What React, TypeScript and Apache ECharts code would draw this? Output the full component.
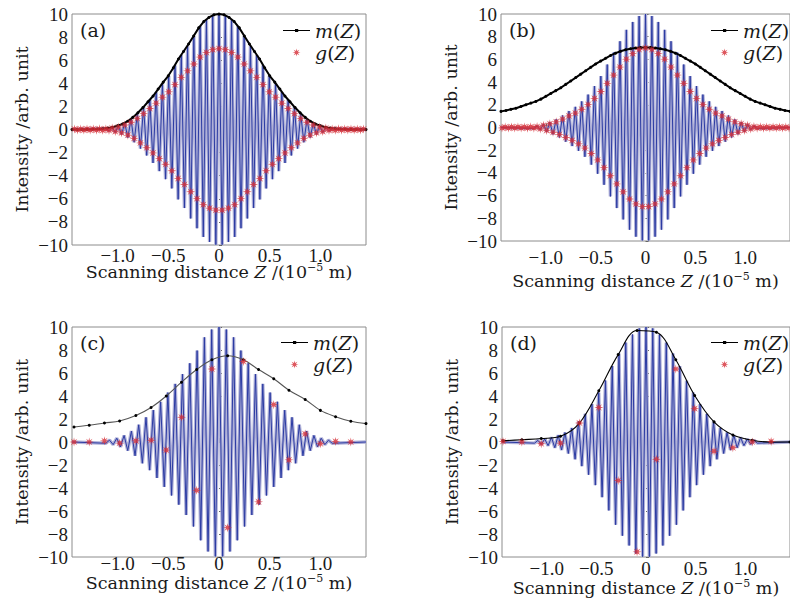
import React, { useEffect, useRef } from "react";
import * as echarts from "echarts";

// ---------- data ----------
const xMin = -1.45;
const xMax = 1.45;
const xTicks = [-1.0, -0.5, 0, 0.5, 1.0];
const panelLabels = ["(a)", "(b)", "(c)", "(d)"];

// Panel (a): interference fringe extrema (signed), sampled every half fringe
const aFringeStart = -1.116;
const aFringeStep = 0.031;
const aFringe = [0.07,-0.12,0.18,-0.25,0.32,-0.42,0.55,-0.7,0.9,-1.1,1.35,-1.65,1.95,-2.25,2.6,-2.9,3.25,-3.6,4.0,-4.3,4.65,-5.1,5.55,-6.05,6.45,-6.8,7.25,-7.7,8.1,-8.55,8.95,-9.3,9.53,-9.73,9.88,-9.97,10,-9.97,9.88,-9.73,9.53,-9.3,8.95,-8.55,8.1,-7.7,7.25,-6.8,6.45,-6.05,5.55,-5.1,4.65,-4.3,4.0,-3.6,3.25,-2.9,2.6,-2.25,1.95,-1.65,1.35,-1.1,0.9,-0.7,0.55,-0.42,0.32,-0.25,0.18,-0.12,0.07];
const aMStart = -1.45;
const aMStep = 0.05;
const aM = [0,0,0,0.01,0.02,0.04,0.07,0.12,0.2,0.32,0.48,0.72,1.05,1.45,1.9,2.4,2.9,3.5,4.1,4.65,5.35,6.1,6.75,7.4,8.1,8.8,9.35,9.7,9.93,10,9.93,9.7,9.35,8.8,8.1,7.4,6.75,6.1,5.35,4.65,4.1,3.5,2.9,2.4,1.9,1.45,1.05,0.72,0.48,0.32,0.2,0.12,0.07,0.04,0.02,0.01,0,0,0];
const aGStart = -1.426;
const aGStep = 0.031;
const aG = [0.04,-0.04,0.04,-0.05,0.05,-0.05,0.05,-0.06,0.06,-0.07,0.05,-0.08,0.13,-0.18,0.22,-0.29,0.39,-0.49,0.63,-0.77,0.95,-1.16,1.37,-1.58,1.82,-2.03,2.28,-2.52,2.8,-3.01,3.26,-3.57,3.89,-4.24,4.52,-4.76,5.08,-5.39,5.67,-5.99,6.27,-6.51,6.67,-6.81,6.92,-6.98,7.0,-6.98,6.92,-6.81,6.67,-6.51,6.27,-5.99,5.67,-5.39,5.08,-4.76,4.52,-4.24,3.89,-3.57,3.26,-3.01,2.8,-2.52,2.28,-2.03,1.82,-1.58,1.37,-1.16,0.95,-0.77,0.63,-0.49,0.39,-0.29,0.22,-0.18,0.13,-0.08,0.05,-0.07,0.06,-0.06,0.05,-0.05,0.05,-0.05,0.04,-0.04,0.04];

// Panel (b)
const bFringeStart = -1.12;
const bFringeStep = 0.032;
const bFringe = [-0.08,0.12,-0.19,0.28,-0.37,0.47,-0.6,0.72,-0.88,1.06,-1.25,1.45,-1.63,1.82,-2.05,2.3,-2.58,2.9,-3.27,3.65,-4.08,4.53,-5.05,5.55,-6.07,6.6,-7.1,7.6,-8.1,8.6,-9.0,9.3,-9.62,9.82,-9.95,10,-9.95,9.82,-9.62,9.3,-9.0,8.6,-8.1,7.6,-7.1,6.6,-6.07,5.55,-5.05,4.53,-4.08,3.65,-3.27,2.9,-2.58,2.3,-2.05,1.82,-1.63,1.45,-1.25,1.06,-0.88,0.72,-0.6,0.47,-0.37,0.28,-0.19,0.12,-0.08];
const bMStart = -1.45;
const bMStep = 0.05;
const bM = [1.42,1.5,1.6,1.7,1.85,2.0,2.15,2.3,2.5,2.75,3.0,3.25,3.5,3.8,4.1,4.4,4.7,5.0,5.3,5.6,5.85,6.1,6.35,6.55,6.72,6.85,6.93,7.0,7.04,7.05,7.04,7.0,6.93,6.85,6.72,6.55,6.35,6.1,5.85,5.6,5.3,5.0,4.7,4.4,4.1,3.8,3.5,3.25,3.0,2.75,2.5,2.3,2.15,2.0,1.85,1.7,1.6,1.5,1.42];
const bGStart = -1.44;
const bGStep = 0.032;
const bG = [-0.04,0.04,-0.05,0.05,-0.05,0.05,-0.05,0.05,-0.06,0.06,-0.06,0.08,-0.13,0.2,-0.26,0.33,-0.42,0.5,-0.62,0.74,-0.88,1.02,-1.14,1.27,-1.44,1.61,-1.81,2.03,-2.29,2.56,-2.86,3.17,-3.54,3.89,-4.25,4.62,-4.97,5.32,-5.67,6.02,-6.3,6.51,-6.73,6.87,-6.97,7.0,-6.97,6.87,-6.73,6.51,-6.3,6.02,-5.67,5.32,-4.97,4.62,-4.25,3.89,-3.54,3.17,-2.86,2.56,-2.29,2.03,-1.81,1.61,-1.44,1.27,-1.14,1.02,-0.88,0.74,-0.62,0.5,-0.42,0.33,-0.26,0.2,-0.13,0.08,-0.06,0.06,-0.06,0.05,-0.05,0.05,-0.05,0.05,-0.05,0.04,-0.04];

// Panel (c)
const cFringeStart = -1.116;
const cFringeStep = 0.036;
const cFringe = [-0.11,0.16,-0.23,0.33,-0.43,0.57,-0.75,0.95,-1.2,1.5,-1.85,2.15,-2.45,2.77,-3.13,3.5,-3.9,4.3,-4.65,5.05,-5.45,5.9,-6.35,6.85,-7.35,7.95,-8.55,9.1,-9.52,9.78,-9.95,10,-9.95,9.78,-9.52,9.1,-8.55,7.95,-7.35,6.85,-6.35,5.9,-5.45,5.05,-4.65,4.3,-3.9,3.5,-3.13,2.77,-2.45,2.15,-1.85,1.5,-1.2,0.95,-0.75,0.57,-0.43,0.33,-0.23,0.16,-0.11];
const cMZ = [-1.43,-1.28,-1.13,-0.98,-0.82,-0.67,-0.52,-0.37,-0.22,-0.07,0.085,0.24,0.39,0.54,0.69,0.85,1.0,1.15,1.3,1.45];
const cM = [1.3,1.45,1.65,1.83,2.3,3.0,4.0,5.2,6.3,7.15,7.5,7.15,6.3,5.5,4.5,3.7,2.75,2.2,1.8,1.6];
const cGZ = [-1.43,-1.28,-1.13,-0.98,-0.82,-0.67,-0.52,-0.37,-0.22,-0.07,0.085,0.24,0.39,0.54,0.69,0.85,1.0,1.15,1.3];
const cG = [0,0,0.1,-0.1,0.1,0.15,-0.7,2.15,-4.2,6.35,-7.45,7.0,-5.2,3.25,-1.55,0.7,-0.15,0.05,0];

// Panel (d)
const dFringeStart = -1.122;
const dFringeStep = 0.034;
const dFringe = [-0.1,0.14,-0.2,0.26,-0.32,0.4,-0.5,0.6,-0.7,0.83,-1.0,1.22,-1.5,1.8,-2.1,2.45,-2.85,3.3,-3.75,4.3,-4.8,5.35,-5.95,6.6,-7.2,7.7,-8.15,8.65,-9.0,9.35,-9.7,9.88,-9.97,10,-9.97,9.88,-9.7,9.35,-9.0,8.65,-8.15,7.7,-7.2,6.6,-5.95,5.35,-4.8,4.3,-3.75,3.3,-2.85,2.45,-2.1,1.8,-1.5,1.22,-1.0,0.83,-0.7,0.6,-0.5,0.4,-0.32,0.26,-0.2,0.14,-0.1];
const dMZ = [-1.44,-1.25,-1.055,-0.86,-0.67,-0.475,-0.28,-0.09,0.105,0.3,0.49,0.685,0.875,1.07,1.26,1.45];
const dM = [0.1,0.2,0.3,0.5,1.65,4.45,7.6,9.7,9.55,7.15,4.05,1.75,0.6,0.15,0.0,0.0];
const dGZ = [-1.44,-1.25,-1.055,-0.86,-0.67,-0.475,-0.28,-0.09,0.105,0.3,0.49,0.685,0.875,1.07,1.26];
const dG = [0.05,0,-0.15,-0.1,1.65,3.0,-3.35,-9.55,-1.5,6.35,2.9,-0.8,-0.5,0,0.05];

// ---------- helpers ----------
const gridded = (start: number, step: number, vals: number[]) =>
  vals.map((v, i) => [+(start + step * i).toFixed(4), v]);
const paired = (zs: number[], vals: number[]) => vals.map((v, i) => [zs[i], v]);
const withEdges = (pts: number[][]) => [[xMin, 0], ...pts, [xMax, 0]];

function asteriskPath() {
  const n = 8;
  let d = "";
  for (let i = 0; i < 2 * n; i++) {
    const a = (i * Math.PI) / n - Math.PI / 2;
    const r = i % 2 ? 3.8 : 10;
    const x = 10 + r * Math.cos(a);
    const y = 10 + r * Math.sin(a);
    d += (i ? "L" : "M") + x.toFixed(2) + " " + y.toFixed(2);
  }
  return "path://" + d + "Z";
}
// legend icon for m(Z): thin line with a small dot, in a 27x8 box
const mIcon =
  "path://M0 0L0.05 0L0 0.05Z M27 8L26.95 8L27 7.95Z M0 3.4L27 3.4L27 4.6L0 4.6Z M12 2.4L15.2 2.4L15.2 5.6L12 5.6Z";

const SERIF_NUM = "Liberation Serif";
const SERIF_TXT = "DejaVu Serif";
const TXT = "#1a1a1a";

export default function App() {
  const ref = useRef<HTMLDivElement>(null);
  useEffect(() => {
    if (!ref.current) return;
    const chart = echarts.init(ref.current, undefined, { renderer: "svg" });
    const star = asteriskPath();

    const grids = [
      { left: 72, top: 14, width: 294, height: 231 },
      { left: 501, top: 14, width: 294, height: 227 },
      { left: 72, top: 327, width: 294, height: 230 },
      { left: 502, top: 327, width: 294, height: 230 },
    ];
    const xLabelMargin = [3, 9, -1, 4];
    const xNameGap = [17, 30, 16, 21];

    const fringes = [
      gridded(aFringeStart, aFringeStep, aFringe),
      gridded(bFringeStart, bFringeStep, bFringe),
      gridded(cFringeStart, cFringeStep, cFringe),
      gridded(dFringeStart, dFringeStep, dFringe),
    ];
    const ms = [
      gridded(aMStart, aMStep, aM),
      gridded(bMStart, bMStep, bM),
      paired(cMZ, cM),
      paired(dMZ, dM),
    ];
    const gs = [
      gridded(aGStart, aGStep, aG),
      gridded(bGStart, bGStep, bG),
      paired(cGZ, cG),
      paired(dGZ, dG),
    ];

    const series: any[] = [];
    for (let i = 0; i < 4; i++) {
      const fr = withEdges(fringes[i]);
      series.push({
        type: "line", xAxisIndex: i, yAxisIndex: i, data: fr, showSymbol: false, silent: true,
        lineStyle: { color: "#b0b1d8", width: 3.4 }, z: 1,
      });
      series.push({
        type: "line", xAxisIndex: i, yAxisIndex: i, data: fr, showSymbol: false, silent: true,
        lineStyle: { color: "#2b3ba3", width: 1.0 }, z: 2,
      });
      const sparse = i >= 2;
      series.push({
        name: "m(Z)", type: "line", xAxisIndex: i, yAxisIndex: i, data: ms[i],
        symbol: "circle", symbolSize: 3, showSymbol: true,
        smooth: sparse ? 0.35 : false,
        itemStyle: { color: "#000" },
        lineStyle: { color: i === 2 ? "#555" : "#000", width: sparse ? 1.1 : 2 }, z: 3,
      });
      series.push({
        name: "g(Z)", type: "scatter", xAxisIndex: i, yAxisIndex: i, data: gs[i],
        symbol: star, symbolSize: 9, itemStyle: { color: "#d62e37" }, z: 4,
      });
    }

    const legendPos = [
      { left: 278, top: 15 },
      { left: 706, top: 15 },
      { left: 276, top: 327 },
      { left: 706, top: 327 },
    ];
    const richLegend = {
      i: { fontStyle: "italic", fontFamily: SERIF_TXT, fontSize: 19, color: TXT },
    };

    chart.setOption({
      animation: false,
      backgroundColor: "#fff",
      grid: grids.map((g) => ({ ...g, show: true, borderColor: "#8c8c8c", borderWidth: 1, backgroundColor: "transparent", containLabel: false })),
      xAxis: grids.map((_, i) => ({
        type: "value", gridIndex: i, min: xMin, max: xMax,
        splitLine: { show: false },
        axisLine: { show: false },
        axisTick: { show: true, inside: true, length: 4, customValues: xTicks, lineStyle: { color: "#666" } },
        axisLabel: {
          customValues: xTicks, margin: xLabelMargin[i],
          fontFamily: SERIF_NUM, fontSize: 19, color: TXT, lineHeight: 14,
          formatter: (v: number) => (v === 0 ? "0" : (v < 0 ? "\u2212" : "") + Math.abs(v).toFixed(1)),
        },
        name: "Scanning distance {i|Z} /(10{s|\u22125} m)",
        nameLocation: "middle", nameGap: xNameGap[i], nameMoveOverlap: false,
        nameTextStyle: {
          fontFamily: SERIF_TXT, fontSize: 17.5, color: TXT, lineHeight: 20,
          rich: {
            i: { fontStyle: "italic", fontFamily: SERIF_TXT, fontSize: 17.5, color: TXT, lineHeight: 20 },
            s: { fontFamily: SERIF_TXT, fontSize: 11, color: TXT, verticalAlign: "top", lineHeight: 20 },
          },
        },
      })),
      yAxis: grids.map((_, i) => ({
        type: "value", gridIndex: i, min: -10, max: 10, interval: 2,
        splitLine: { show: false },
        axisLine: { show: false },
        axisTick: { show: true, inside: true, length: 3, lineStyle: { color: "#666" } },
        axisLabel: {
          margin: 4, fontFamily: SERIF_NUM, fontSize: 19, color: TXT,
          formatter: (v: number) => (v < 0 ? "\u2212" + Math.abs(v) : String(v)),
        },
        name: "Intensity /arb. unit", nameLocation: "middle", nameGap: 41, nameMoveOverlap: false,
        nameTextStyle: { fontFamily: SERIF_TXT, fontSize: 17.5, color: TXT },
      })),
      legend: legendPos.map((p) => ({
        ...p, orient: "vertical", itemGap: 1, itemWidth: 27, itemHeight: 8,
        selectedMode: false,
        data: [{ name: "m(Z)", icon: mIcon }, { name: "g(Z)", icon: star }],
        formatter: (name: string) => (name === "m(Z)" ? "{i|m}(" : "{i|g}(") + "{i|Z})",
        textStyle: { fontFamily: SERIF_TXT, fontSize: 19, color: TXT, lineHeight: 21, rich: richLegend },
      })),
      graphic: panelLabels.map((t, i) => ({
        type: "text", left: grids[i].left + 8, top: grids[i].top + 6,
        style: { text: t, font: `19px "${SERIF_TXT}"`, fill: TXT },
      })),
      series,
    });
    return () => chart.dispose();
  }, []);
  return <div ref={ref} style={{ position: "fixed", left: 0, top: 0, width: 790, height: 602, background: "#fff" }} />;
}
